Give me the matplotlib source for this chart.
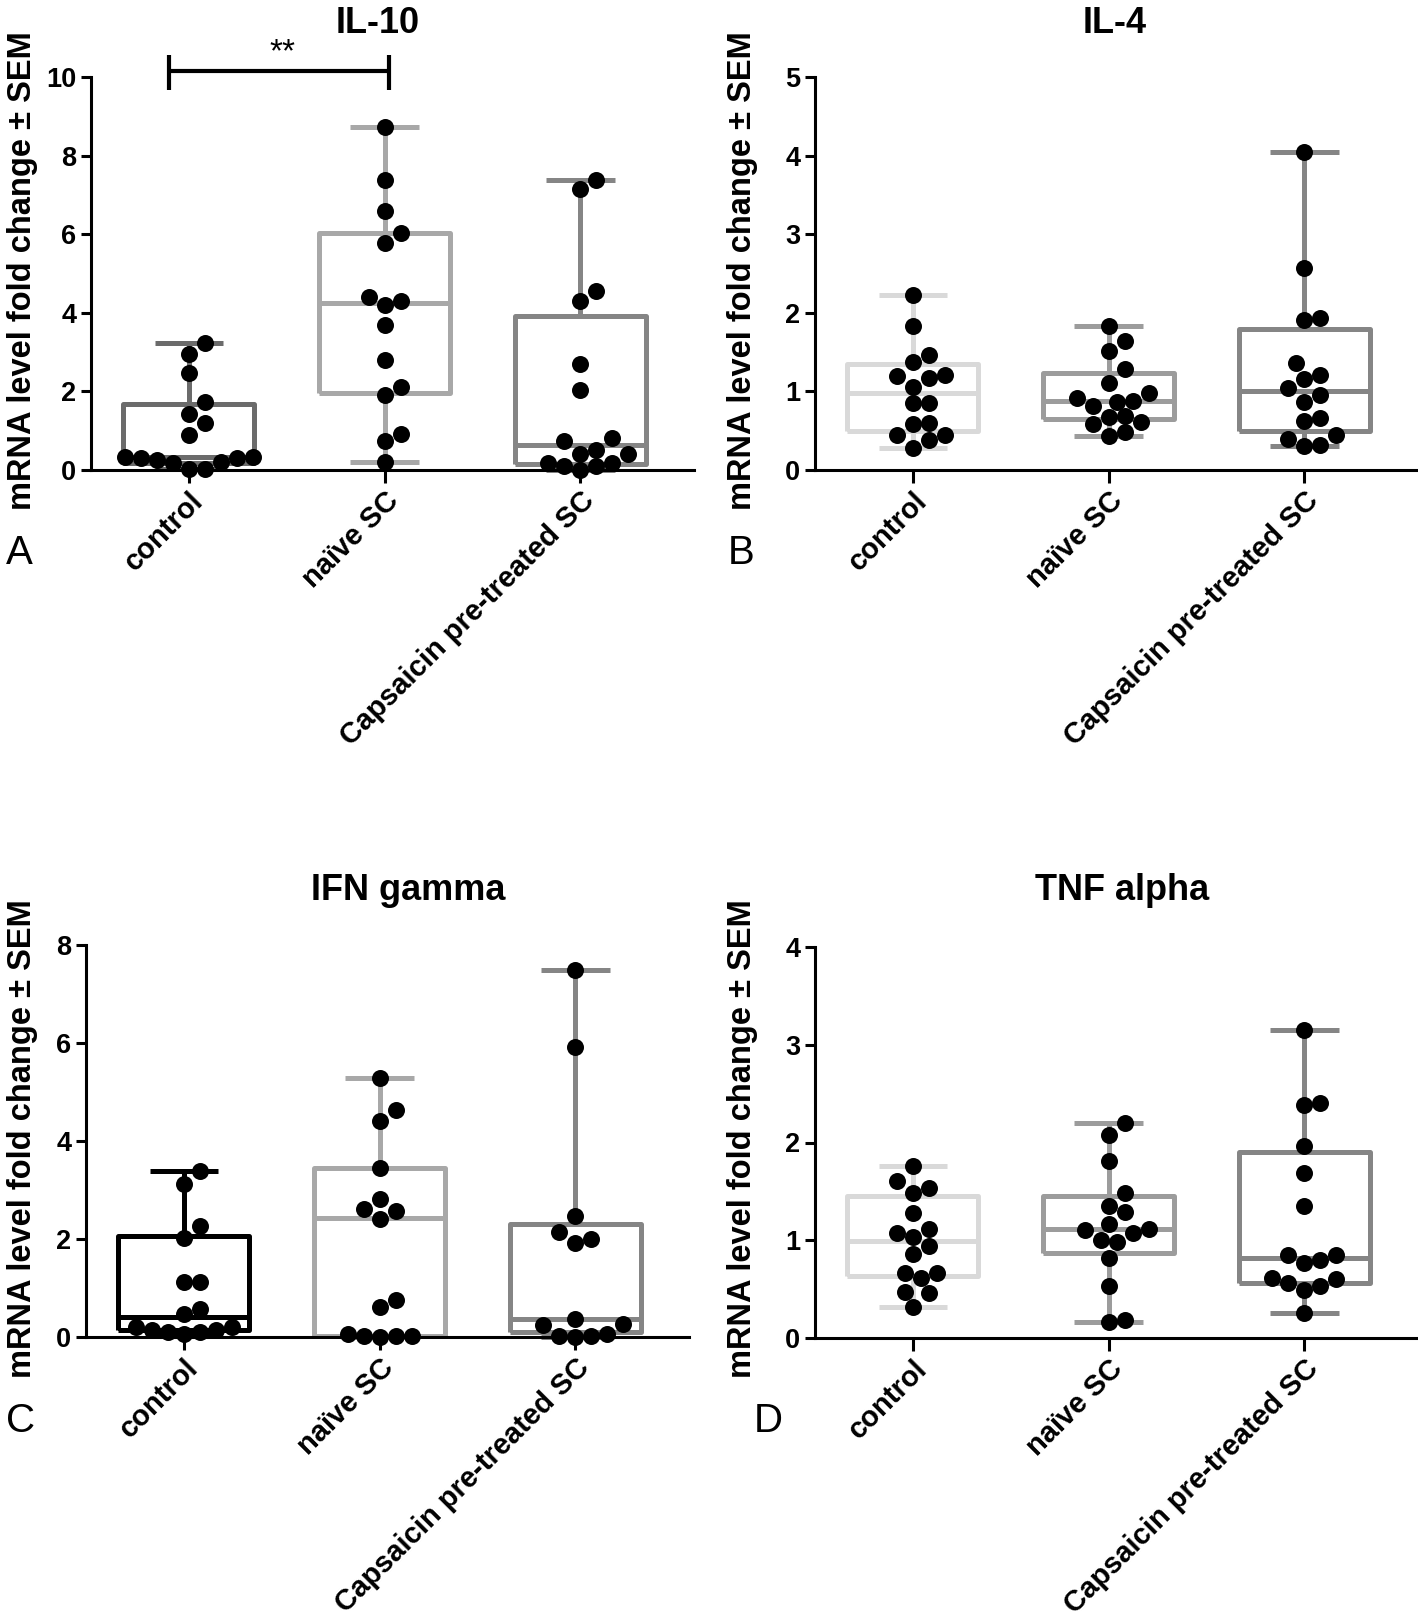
import numpy as np
import matplotlib.pyplot as plt

W, H, DPI = 1418, 1618, 100

GROUPS = ["control", "naïve SC", "Capsaicin pre-treated SC"]

# ── IL-10 ─────────────────────────────────────────────────────────────────────
il10_control = [3.23, 2.95, 2.47, 1.74, 1.43, 1.19, 0.89, 0.34, 0.31, 0.26,
                0.17, 0.03, 0.03, 0.21, 0.31, 0.34]
il10_naive   = [8.74, 7.39, 6.60, 5.77, 6.03, 4.30, 4.40, 4.21, 3.70, 2.79,
                1.91, 2.11, 0.91, 0.75, 0.21]
il10_caps    = [7.39, 7.15, 4.30, 4.55, 2.70, 2.04, 0.81, 0.74, 0.41, 0.17,
                0.09, 0.00, 0.09, 0.17, 0.41, 0.51]
il10_q1  = [0.18, 1.96, 0.15]
il10_med = [0.33, 4.24, 0.64]
il10_q3  = [1.69, 6.04, 3.91]

# ── IL-4 ──────────────────────────────────────────────────────────────────────
il4_control = [2.23, 1.83, 1.46, 1.37, 1.20, 1.17, 1.21, 1.06, 0.85, 0.85,
               0.60, 0.58, 0.45, 0.45, 0.38, 0.28]
il4_naive   = [1.83, 1.64, 1.51, 1.28, 1.11, 0.91, 0.88, 0.81, 0.87, 0.98,
               0.68, 0.58, 0.61, 0.69, 0.43, 0.48]
il4_caps    = [4.04, 2.57, 1.91, 1.93, 1.36, 1.16, 1.21, 0.96, 1.04, 0.87,
               0.66, 0.62, 0.40, 0.45, 0.30, 0.32]
il4_q1  = [0.50, 0.65, 0.49]
il4_med = [0.98, 0.88, 1.00]
il4_q3  = [1.35, 1.24, 1.79]

# ── IFN gamma ─────────────────────────────────────────────────────────────────
ifn_control = [3.39, 3.13, 2.26, 2.03, 1.12, 1.12, 0.58, 0.46, 0.20, 0.14,
               0.10, 0.07, 0.10, 0.14, 0.20]
ifn_naive   = [5.28, 4.64, 4.41, 3.44, 2.81, 2.62, 2.57, 2.40, 0.76, 0.61,
               0.07, 0.03, 0.01, 0.03, 0.03]
ifn_caps    = [7.50, 5.92, 2.46, 2.14, 1.99, 1.91, 0.37, 0.24, 0.27, 0.03,
               0.01, 0.03, 0.07]
ifn_q1  = [0.14, 0.03, 0.10]
ifn_med = [0.41, 2.42, 0.37]
ifn_q3  = [2.06, 3.44, 2.31]

# ── TNF alpha ─────────────────────────────────────────────────────────────────
tnf_control = [1.76, 1.61, 1.53, 1.48, 1.28, 1.12, 1.07, 1.03, 0.94, 0.86,
               0.66, 0.61, 0.67, 0.47, 0.46, 0.32]
tnf_naive   = [2.20, 2.08, 1.81, 1.48, 1.35, 1.29, 1.17, 1.10, 1.11, 1.07,
               1.00, 0.98, 0.82, 0.53, 0.16, 0.18]
tnf_caps    = [3.15, 2.38, 2.40, 1.96, 1.69, 1.35, 0.85, 0.77, 0.80, 0.85,
               0.60, 0.53, 0.49, 0.56, 0.61, 0.26]
tnf_q1  = [0.63, 0.87, 0.56]
tnf_med = [0.99, 1.11, 0.82]
tnf_q3  = [1.45, 1.45, 1.90]

SANS   = ["Liberation Sans", "DejaVu Sans"]
YLABEL = "mRNA level fold change ± SEM"

# panel: title, data, q1, med, q3, box colours, ymax, ystep,
#        axes box (px), title pos (px), y-label pos (px), letter (text, x, y px)
PANELS = [
    ("IL-10", [il10_control, il10_naive, il10_caps], il10_q1, il10_med, il10_q3,
     ["#6b6b6b", "#a8a8a8", "#858585"], 10, 2, (91, 77, 694, 470), (378, 33), (23, 271), ("A", 6, 564)),
    ("IL-4", [il4_control, il4_naive, il4_caps], il4_q1, il4_med, il4_q3,
     ["#d9d9d9", "#9c9c9c", "#858585"], 5, 1, (815, 77, 1418, 470), (1115, 33), (743, 271), ("B", 728, 564)),
    ("IFN gamma", [ifn_control, ifn_naive, ifn_caps], ifn_q1, ifn_med, ifn_q3,
     ["#000000", "#a8a8a8", "#858585"], 8, 2, (86, 945, 689, 1337), (408, 900), (23, 1139), ("C", 6, 1432)),
    ("TNF alpha", [tnf_control, tnf_naive, tnf_caps], tnf_q1, tnf_med, tnf_q3,
     ["#d9d9d9", "#9c9c9c", "#858585"], 4, 1, (815, 947, 1418, 1338), (1122, 900), (743, 1139), ("D", 754, 1432)),
]

DOT_PX  = 17.0   # marker diameter, pixels
GAP_PX  = 16.0   # minimal centre distance between dots, pixels
GRID_PX = GAP_PX / 2


def swarm_x(ax, xc, vals):
    """Grid beeswarm in display space, lowest values placed first."""
    vals = np.asarray(vals, float)
    pts = ax.transData.transform(np.column_stack([np.full(len(vals), xc), vals]))
    steps = [0]
    for j in range(1, 40):
        steps += [j, -j]
    xs = np.zeros(len(vals))
    placed = []
    for i in np.argsort(vals, kind="stable"):
        px, py = pts[i]
        for j in steps:
            cx = px + j * GRID_PX
            if all((cx - qx) ** 2 + (py - qy) ** 2 >= GAP_PX ** 2 for qx, qy in placed):
                break
        placed.append((cx, py))
        xs[i] = cx
    return ax.transData.inverted().transform(np.column_stack([xs, pts[:, 1]]))[:, 0]


fig = plt.figure(figsize=(W / DPI, H / DPI), dpi=DPI)

for title, data, q1, med, q3, cols, ymax, ystep, box, tpos, lpos, letter in PANELS:
    x0, y0, x1, y1 = box
    ax = fig.add_axes([x0 / W, 1 - y1 / H, (x1 - x0) / W, (y1 - y0) / H])
    ax.set_xlim(-0.5, 2.58)
    ax.set_ylim(0, ymax)
    for s in ["top", "right"]:
        ax.spines[s].set_visible(False)
    for s in ["left", "bottom"]:
        ax.spines[s].set_linewidth(2.2)

    stats = [dict(med=med[k], q1=q1[k], q3=q3[k], whislo=min(v), whishi=max(v),
                  fliers=[]) for k, v in enumerate(data)]
    bp = ax.bxp(stats, positions=range(3), widths=0.67, capwidths=0.35,
                showfliers=False)
    for k, c in enumerate(cols):
        for art in [bp["boxes"][k], bp["medians"][k],
                    bp["whiskers"][2 * k], bp["whiskers"][2 * k + 1],
                    bp["caps"][2 * k], bp["caps"][2 * k + 1]]:
            art.set_color(c)
            art.set_linewidth(3.6)
            art.set_solid_capstyle("butt")
            art.set_clip_on(False)

    for k, vals in enumerate(data):
        ax.scatter(swarm_x(ax, k, vals), vals, s=(DOT_PX * 72 / DPI) ** 2,
                   color="black", zorder=5, clip_on=False, linewidths=0)

    yt = np.arange(0, ymax + 0.01, ystep)
    ax.set_yticks(yt)
    ax.set_yticklabels([f"{v:g}" for v in yt], family=SANS, fontweight="bold",
                       fontsize=19.5)
    ax.tick_params(axis="y", length=7.5, width=2.2, pad=3)
    ax.set_xticks(range(3))
    ax.set_xticklabels(GROUPS, rotation=45, ha="right", va="top",
                       rotation_mode="anchor", family=SANS, fontweight="bold",
                       fontsize=21)
    ax.tick_params(axis="x", length=9, width=2.2, pad=3)

    fig.text(tpos[0] / W, 1 - tpos[1] / H, title, ha="center", va="baseline",
             family=SANS, fontweight="bold", fontsize=26)
    fig.text(lpos[0] / W, 1 - lpos[1] / H, YLABEL, rotation=90, ha="center",
             va="center", family=SANS, fontweight="bold", fontsize=23.5)
    fig.text(letter[1] / W, 1 - letter[2] / H, letter[0], ha="left",
             va="baseline", family=SANS, fontsize=29)

    if title == "IL-10":
        ax.plot([-0.10, 1.02], [10.15, 10.15], color="black", lw=3,
                clip_on=False, solid_capstyle="butt")
        for xe in [-0.10, 1.02]:
            ax.plot([xe, xe], [9.66, 10.55], color="black", lw=3,
                    clip_on=False, solid_capstyle="butt")
        ax.text(0.476, 10.62, "**", ha="center", va="center", fontsize=24,
                family=SANS)

fig.savefig("out.png", dpi=DPI)
